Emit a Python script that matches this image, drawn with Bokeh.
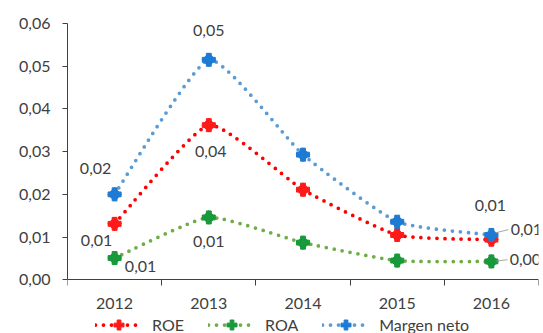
import math
from bokeh.plotting import figure
from bokeh.models import (Range1d, FixedTicker, CustomJSTickFormatter, Legend,
                          LegendItem, ColumnDataSource)
from bokeh.core.properties import value
from bokeh.embed import file_html
from bokeh.resources import INLINE

# ---- data -------------------------------------------------------------
years = ["2012", "2013", "2014", "2015", "2016"]
roe = [0.0131, 0.0362, 0.0211, 0.0105, 0.0094]
roa = [0.0051, 0.0146, 0.0087, 0.0045, 0.0043]
margen_neto = [0.0200, 0.0515, 0.0293, 0.0136, 0.0105]
y_ticks = [0.00, 0.01, 0.02, 0.03, 0.04, 0.05, 0.06]

FONT = "Lato"
TEXT_COLOR = "#404040"
FONT_SIZE = "16px"
AXIS_COLOR = "#404040"

xs = [i + 0.5 for i in range(len(years))]

# The frame runs down to the bottom edge so that the legend can sit under
# the x axis; the axis itself is pinned at y = 0.
p = figure(width=543, height=333, output_backend="svg", toolbar_location=None,
           x_range=Range1d(0, len(years)), y_range=Range1d(-0.01257, 0.06),
           min_border_left=67, min_border_right=5, min_border_top=23,
           min_border_bottom=0)
p.outline_line_color = None
p.grid.visible = False
p.background_fill_color = "white"
p.border_fill_color = "white"

# x axis: labels centred in each category, tick marks on the boundaries
p.xaxis.fixed_location = 0
p.xaxis.ticker = FixedTicker(ticks=xs, minor_ticks=list(range(len(years) + 1)))
p.xaxis.formatter = CustomJSTickFormatter(args=dict(labels=years),
                                          code="return labels[Math.floor(tick)];")
p.xaxis.major_tick_in = 0
p.xaxis.major_tick_out = 0
p.xaxis.minor_tick_in = 0
p.xaxis.minor_tick_out = 6
p.xaxis.major_label_standoff = 12

p.yaxis.bounds = (0, 0.06)
p.yaxis.ticker = FixedTicker(ticks=y_ticks, minor_ticks=[])
p.yaxis.formatter = CustomJSTickFormatter(code="return tick.toFixed(2).replace('.', ',');")
p.yaxis.major_tick_in = 0
p.yaxis.major_tick_out = 5
p.yaxis.major_label_standoff = 12

for ax in (p.xaxis, p.yaxis):
    ax.axis_line_color = AXIS_COLOR
    ax.major_tick_line_color = AXIS_COLOR
    ax.minor_tick_line_color = AXIS_COLOR
    ax.major_label_text_font = FONT
    ax.major_label_text_font_size = FONT_SIZE
    ax.major_label_text_color = TEXT_COLOR


def smooth_segments(x, y, k=12.0):
    """Cubic Bezier pieces through the points (Catmull-Rom style handles)."""
    n = len(x)
    seg = dict(x0=[], y0=[], x1=[], y1=[], cx0=[], cy0=[], cx1=[], cy1=[])
    for i in range(n - 1):
        a = max(i - 1, 0)
        b = min(i + 2, n - 1)
        seg["x0"].append(x[i]); seg["y0"].append(y[i])
        seg["x1"].append(x[i + 1]); seg["y1"].append(y[i + 1])
        seg["cx0"].append(x[i] + (x[i + 1] - x[a]) / k)
        seg["cy0"].append(y[i] + (y[i + 1] - y[a]) / k)
        seg["cx1"].append(x[i + 1] - (x[b] - x[i]) / k)
        seg["cy1"].append(y[i + 1] - (y[b] - y[i]) / k)
    return ColumnDataSource(seg)


series = [
    ("ROE", roe, "#FF0000", "#FF1A1A"),
    ("ROA", roa, "#70AD47", "#18993C"),
    ("Margen neto", margen_neto, "#5B9BD5", "#1E7BD4"),
]

legend_items = []
for name, vals, line_color, mark_color in series:
    curve = p.bezier(x0="x0", y0="y0", x1="x1", y1="y1", cx0="cx0", cy0="cy0",
                     cx1="cx1", cy1="cy1", source=smooth_segments(xs, vals),
                     line_color=line_color, line_width=3.75, line_dash="0 8",
                     line_cap="round")
    src = ColumnDataSource(dict(x=xs, y=vals))
    dia = p.scatter("x", "y", source=src, marker="square", angle=math.pi / 4,
                    size=9.5, fill_color=mark_color, line_color=mark_color)
    plus = p.scatter("x", "y", source=src, marker="plus", size=13,
                     fill_color=mark_color, line_color=mark_color)
    legend_items.append(LegendItem(label=name, renderers=[curve, plus]))

# ---- data labels (index, x offset px, y offset px) ---------------------
label_places = {
    "ROE": [(0, -18, 17), (1, 2, 26), (4, -1, -34)],
    "ROA": [(0, 26, 8), (1, 0, 24), (4, 34, -2)],
    "Margen neto": [(0, -19, -26), (1, 0, -29), (4, 35, -5)],
}
for name, vals, _, _ in series:
    places = label_places[name]
    src = ColumnDataSource(dict(
        x=[xs[i] for i, _, _ in places],
        y=[vals[i] for i, _, _ in places],
        text=[f"{vals[i]:.2f}".replace(".", ",") for i, _, _ in places],
        dx=[dx for _, dx, _ in places],
        dy=[dy for _, _, dy in places],
    ))
    p.text("x", "y", text="text", x_offset="dx", y_offset="dy", source=src,
           text_align="center", text_baseline="middle",
           text_font=value(FONT), text_font_size=FONT_SIZE, text_color=TEXT_COLOR)

# leader lines for the labels set to the right of the last points
lead = ColumnDataSource(dict(
    x0=[xs[4] + 0.045, xs[4] + 0.055],
    y0=[margen_neto[4] + 0.0005, roa[4] + 0.0001],
    x1=[xs[4] + 0.18, xs[4] + 0.17],
    y1=[margen_neto[4] + 0.00125, roa[4] + 0.0004],
))
p.segment("x0", "y0", "x1", "y1", source=lead, line_color="#A6A6A6", line_width=1)

legend = Legend(items=legend_items, location=(28, -4), orientation="horizontal",
                glyph_width=47, glyph_height=25, label_height=25, padding=0,
                margin=0, spacing=24, label_standoff=10,
                border_line_color=None, background_fill_alpha=0,
                label_text_font=FONT, label_text_font_size=FONT_SIZE,
                label_text_color=TEXT_COLOR)
p.add_layout(legend, "center")

open("out.html", "w").write(file_html(p, INLINE))
